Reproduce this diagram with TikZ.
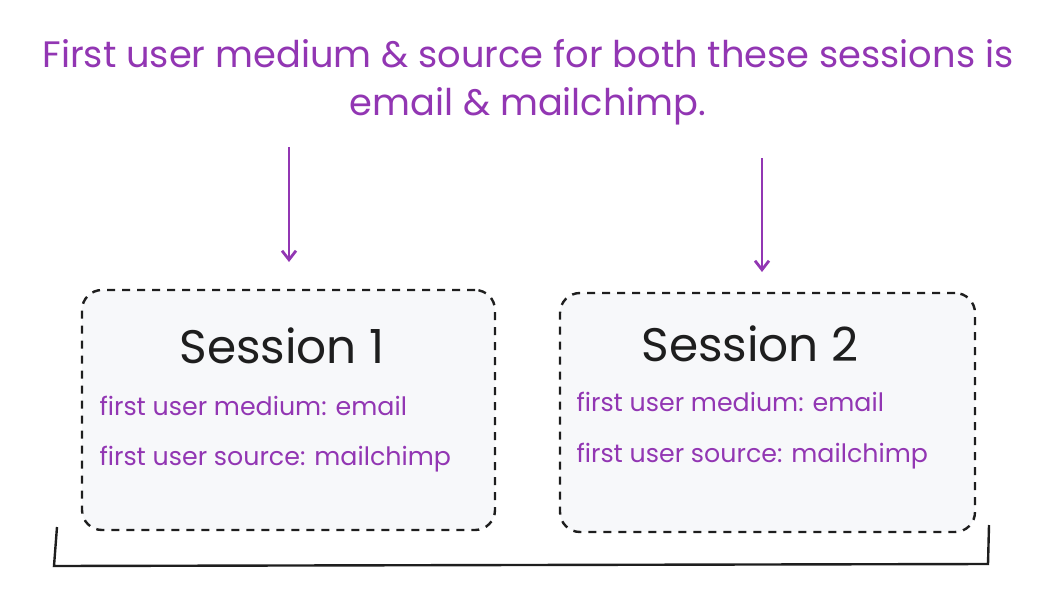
\documentclass[tikz,border=0pt]{standalone}
\usepackage{fontspec}
\setmainfont{Poppins}
\usetikzlibrary{arrows.meta}
\definecolor{vio}{HTML}{9236B3}
\definecolor{boxfill}{HTML}{F7F8FA}
\definecolor{ink}{HTML}{1E1E1E}
\tikzset{
  sess/.style={draw=ink, line width=2.4pt, dash pattern=on 8pt off 7pt, fill=boxfill, rounded corners=20pt},
  varrow/.style={draw=vio, line width=2.8pt, -{Straight Barb[length=9pt,width=14pt,line width=2.8pt]}},
  heading/.style={font=\fontsize{36.8}{48}\selectfont, text=vio, align=center},
  stitle/.style={font=\fontsize{47}{50}\selectfont, text=ink},
  attr/.style={font=\fontsize{25.3}{28}\selectfont, text=vio, anchor=west},
  bracket/.style={draw=ink, line width=2.4pt}
}
\begin{document}
\begin{tikzpicture}[x=1pt,y=-1pt]
\useasboundingbox (0,0) rectangle (1054,594);
\node[heading] (head) at (528,82) {First user medium \& source for both these sessions is\\ email \& mailchimp.};
\node[sess, minimum width=413pt, minimum height=240pt] (s1) at (288.5,410) {};
\node[sess, minimum width=415pt, minimum height=239pt] (s2) at (767.5,412.5) {};
\node[stitle] (t1) at (282,346) {Session 1};
\node[stitle] (t2) at (750,344) {Session 2};
\node[attr] (m1) at (96,406) {first user medium: email};
\node[attr] (r1) at (96,459) {first user source: mailchimp};
\node[attr] (m2) at (573,402) {first user medium: email};
\node[attr] (r2) at (573,456) {first user source: mailchimp};
\coordinate (a1s) at (289,147);
\coordinate (a1e) at (289,262);
\coordinate (a2s) at (762,158);
\coordinate (a2e) at (762,272);
\draw[varrow] (a1s) -- (a1e);
\draw[varrow] (a2s) -- (a2e);
\coordinate (bl1) at (57,527);
\coordinate (bl2) at (54,566);
\coordinate (br2) at (988,564);
\coordinate (br1) at (989,525);
\draw[bracket] (bl1) -- (bl2) -- (br2) -- (br1);
\end{tikzpicture}
\end{document}
